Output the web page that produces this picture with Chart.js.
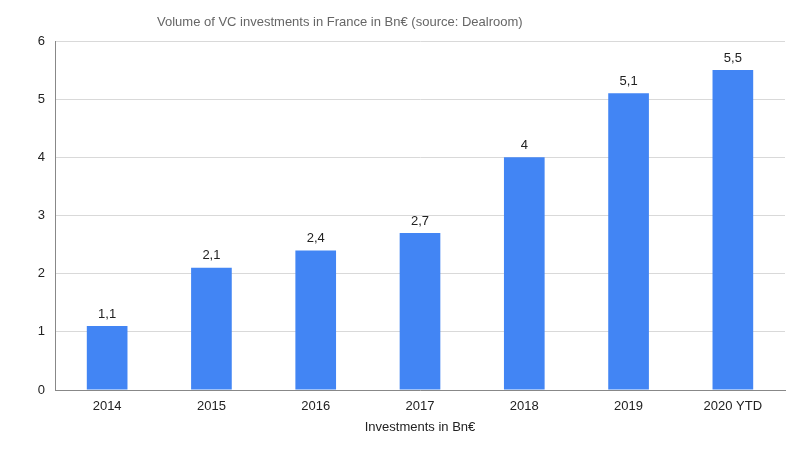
<!DOCTYPE html>
<html>
<head>
<meta charset="utf-8">
<script src="https://cdn.jsdelivr.net/npm/chart.js@4"></script>
<style>
  html, body { margin: 0; padding: 0; background: #fff; }
  #wrap { width: 800px; height: 449px; position: relative; }
</style>
</head>
<body>
<div id="wrap"><canvas id="vcChart"></canvas></div>
<script>
const years = ['2014', '2015', '2016', '2017', '2018', '2019', '2020 YTD'];
const investments = [1.1, 2.1, 2.4, 2.7, 4, 5.1, 5.5];
const yTicks = [0, 1, 2, 3, 4, 5, 6];

const FONT = '"Liberation Sans", Arial, sans-serif';

// value labels over each bar + title at the top
const barLabels = {
  id: 'barLabels',
  afterDatasetsDraw(chart) {
    const ctx = chart.ctx;
    const meta = chart.getDatasetMeta(0);
    ctx.save();
    ctx.font = '13px ' + FONT;
    ctx.fillStyle = '#222';
    ctx.textAlign = 'center';
    ctx.textBaseline = 'middle';
    meta.data.forEach((bar, i) => {
      const txt = String(investments[i]).replace('.', ',');
      ctx.fillText(txt, bar.x, bar.y - 12);
    });
    ctx.fillStyle = '#666';
    ctx.textAlign = 'left';
    ctx.fillText('Volume of VC investments in France in Bn€ (source: Dealroom)', 157, 22);
    ctx.restore();
  }
};

const ctx = document.getElementById('vcChart').getContext('2d');
const vcChart = new Chart(ctx, {
  type: 'bar',
  data: {
    labels: years,
    datasets: [{
      label: 'Investments in Bn€',
      data: investments,
      backgroundColor: '#4285F4',
      categoryPercentage: 0.39,
      barPercentage: 1
    }]
  },
  options: {
    responsive: true,
    maintainAspectRatio: false,
    animation: false,
    layout: { padding: { left: 0, right: 15, top: 41, bottom: 14 } },
    plugins: {
      legend: { display: false },
      tooltip: { enabled: false }
    },
    scales: {
      x: {
        grid: { display: false, drawTicks: false },
        border: { color: '#888', width: 1 },
        ticks: { color: '#222', font: { family: FONT, size: 13 }, padding: 9 },
        title: {
          display: true,
          text: 'Investments in Bn€',
          color: '#222',
          font: { family: FONT, size: 13 },
          padding: { top: 2, bottom: 0 }
        },
        afterFit(scale) { scale.height = 45; }
      },
      y: {
        min: 0,
        max: 6,
        afterBuildTicks(scale) { scale.ticks = yTicks.map(v => ({ value: v })); },
        grid: { color: '#d9d9d9', drawTicks: false },
        border: { color: '#888', width: 1 },
        ticks: { color: '#222', font: { family: FONT, size: 13 }, padding: 10 },
        afterFit(scale) { scale.width = 55; }
      }
    }
  },
  plugins: [barLabels]
});
</script>
</body>
</html>
